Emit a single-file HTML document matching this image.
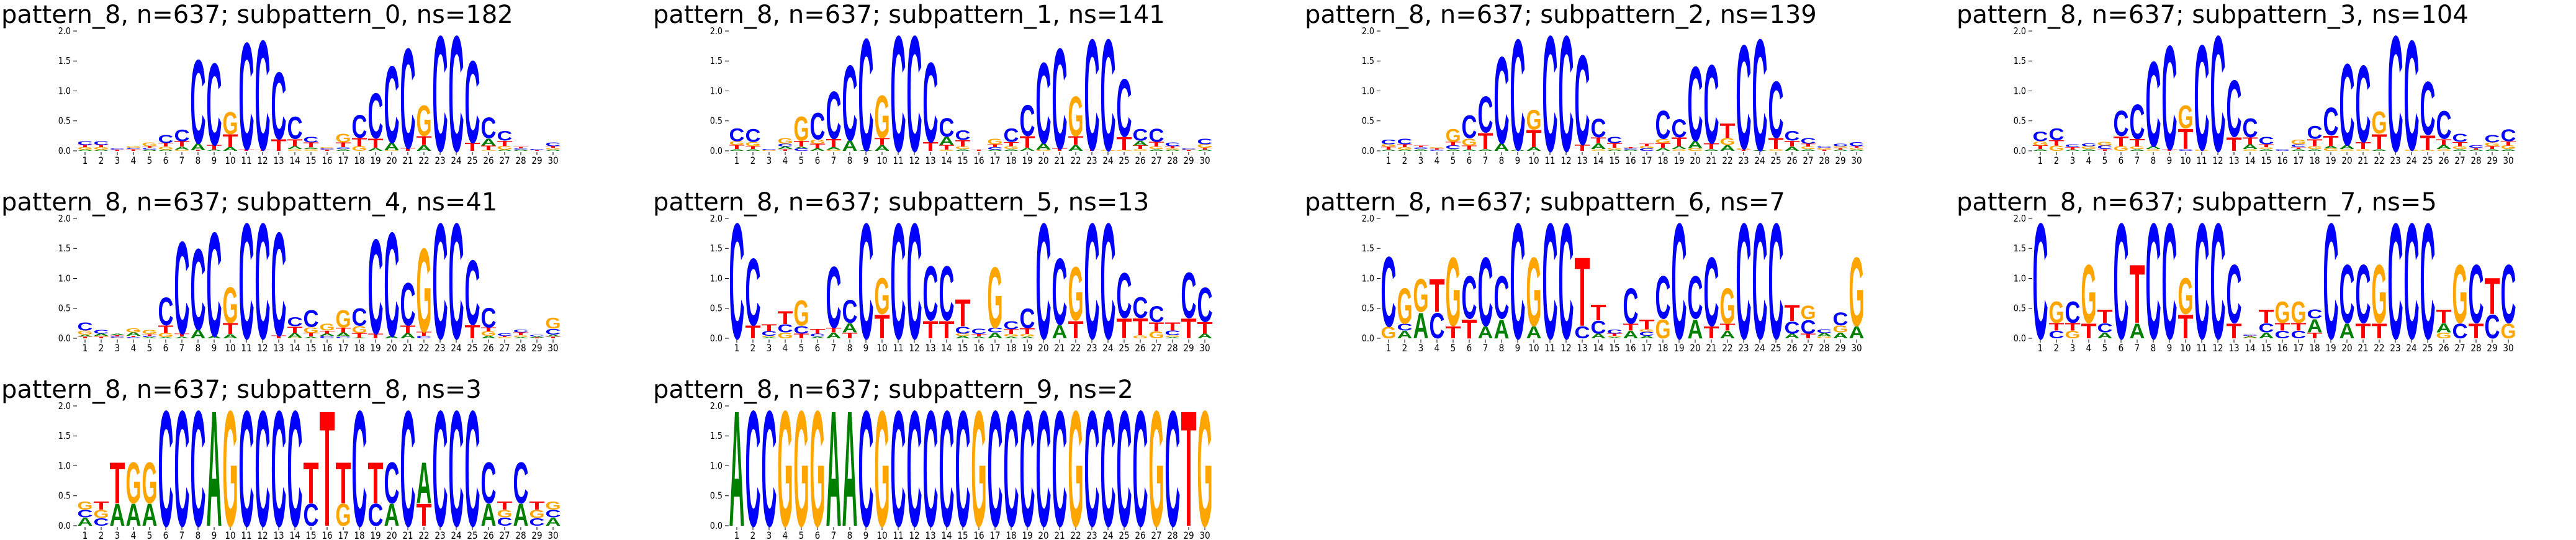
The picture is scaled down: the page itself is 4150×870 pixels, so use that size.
<!DOCTYPE html>
<html><head><meta charset="utf-8"><style>
html,body{margin:0;padding:0;background:#fff;}
svg{display:block;}
</style></head><body>
<svg id="chart" width="4150" height="870" viewBox="0 0 4150 870" xmlns="http://www.w3.org/2000/svg"></svg>
<script>
const titles = [
 "pattern_8, n=637; subpattern_0, ns=182","pattern_8, n=637; subpattern_1, ns=141",
 "pattern_8, n=637; subpattern_2, ns=139","pattern_8, n=637; subpattern_3, ns=104",
 "pattern_8, n=637; subpattern_4, ns=41","pattern_8, n=637; subpattern_5, ns=13",
 "pattern_8, n=637; subpattern_6, ns=7","pattern_8, n=637; subpattern_7, ns=5",
 "pattern_8, n=637; subpattern_8, ns=3","pattern_8, n=637; subpattern_9, ns=2"];
const yTicks = [0, 0.5, 1.0, 1.5, 2.0];
const yTickLabels = ["0.0","0.5","1.0","1.5","2.0"];
const positions = [1,2,3,4,5,6,7,8,9,10,11,12,13,14,15,16,17,18,19,20,21,22,23,24,25,26,27,28,29,30];
// each position: letters bottom-to-top with height in bits
const sub0 = ["A.02 G.04 T.04 C.06","A.02 G.04 T.04 C.06","T.02 C.02","T.03 C.02 G.03","A.02 C.03 T.03 G.06","A.02 G.05 T.06 C.14","G.02 A.05 T.09 C.2","T.01 A.12 C1.45","A.02 T.08 C1.42","A.06 T.22 G.38","T.03 C1.85","T.02 C1.9","T.2 C1.16","G.03 A.05 T.12 C.38","G.03 A.03 T.08 C.1","T.02 C.02 G.02","A.03 C.03 T.08 G.15","G.08 T.14 C.4","A.05 T.16 C.78","G.01 A.13 C1.33","T.05 C1.73","A.1 T.15 G.53","C2.0","C2.0","T.14 C1.42","G.01 T.08 A.12 C.36","A.02 G.06 T.09 C.17","A.02 C.02 T.03","T.01 C.02","A.02 G.03 T.03 C.06"];
const sub1 = ["A.03 T.07 G.06 C.22","A.03 T.05 G.07 C.22","G.01 C.02","T.03 A.04 C.05 G.1","C.04 A.03 T.1 G.42","A.04 T.08 G.07 C.46","G.02 A.04 T.14 C.82","A.18 C1.3","A.01 C1.94","A.1 T.12 G.74","C2.0","C2.0","T.15 C1.38","G.02 T.08 A.14 C.32","A.03 G.04 T.11 C.17","T.02","A.02 C.04 T.05 G.1","A.03 G.05 T.07 C.24","A.05 T.2 C.54","G.02 A.11 C1.4","T.04 C1.74","A.1 T.15 G.69","T.02 C1.92","G.01 C1.93","G.01 T.23 C1.0","G.03 T.06 A.08 C.2","A.03 G.04 T.08 C.23","A.02 G.02 T.04 C.06","T.01 G.01 C.02","A.02 T.03 G.06 C.1"];
const sub2 = ["A.02 T.05 G.04 C.08","A.02 G.04 T.05 C.1","A.03 C.03 T.03","C.02 T.02 G.02","A.03 C.06 T.06 G.22","A.02 T.07 G.12 C.4","A.03 T.28 C.63","A.13 C1.5","A.02 C1.92","A.06 T.3 G.34","C2.0","C2.0","T.11 C1.55","G.03 A.1 T.1 C.32","A.02 G.03 T.08 C.11","A.02 C.02 T.02","C.04 G.04 T.04","A.05 T.08 G.07 C.49","G.03 A.05 T.15 C.31","G.04 A.13 C1.29","A.03 T.1 C1.36","A.1 G.12 T.25","T.02 G.02 C1.8","A.01 C1.93","G.03 T.19 C.98","A.07 T.1 C.17","A.03 G.04 T.05 C.1","T.02 G.03 C.03","A.02 T.03 G.03 C.04","A.02 G.03 T.03 C.07"];
const sub3 = ["A.03 T.06 G.07 C.17","G.09 T.09 C.2","A.02 T.04 C.05","A.03 G.05 C.05","T.03 C.06 G.06","G.08 T.17 C.44","A.03 G.04 T.13 C.6","G.03 A.05 C1.47","T.03 C1.8","C.03 T.35 G.4","G.02 C1.82","C2.0","T.24 C.98","G.03 A.08 T.12 C.33","A.03 G.03 T.05 C.13","C.03","A.03 T.03 C.05 G.08","A.03 G.05 T.12 C.22","G.04 A.04 T.18 C.48","G.03 A.07 C1.41","G.03 T.12 C1.33","A.03 T.26 G.38","C2.0","G.02 C1.9","G.01 T.26 C.92","G.03 A.07 T.1 C.48","A.03 G.05 T.07 C.14","A.02 T.03 C.04","A.03 T.05 G.06 C.13","A.03 G.06 T.07 C.21"];
const sub4 = ["T.03 A.03 G.07 C.14","T.03 G.01 A.04 C.06","G.01 C.02 T.02 A.03","C.02 T.02 A.06 G.07","A.02 C.02 T.03 G.07","A.02 G.07 T.13 C.48","A.03 T.05 C1.6","A.15 C1.4","A.04 C1.8","A.07 T.19 G.62","C2.0","C2.0","T.05 C1.79","G.01 A.08 T.11 C.16","A.03 T.06 G.1 C.29","C.04 A.04 T.05 G.12","C.03 A.07 T.08 G.3","A.01 T.08 G.12 C.3","T.08 C1.64","A.04 C1.8","A.09 T.13 C.74","C.04 T.07 G1.45","C2.0","C2.0","T.23 C1.12","A.04 G.08 T.06 C.34","G.02 T.02 C.04","A.02 G.03 T.05 C.05","T.01 A.02 C.03","T.03 A.03 C.1 G.19"];
const sub5 = ["C2.0","T.22 C1.16","A.02 G.02 C.08 T.12","G.1 C.14 T.22","T.08 C.13 G.44","A.03 C.05 T.08","A.1 T.08 C1.06","T.1 A.16 C.4","C2.0","T.41 G.63","C2.0","C2.0","T.3 C.94","T.3 C.94","A.04 G.04 C.12 T.47","A.03 T.04 C.09","A.1 C.08 G1.05","A.03 G.04 T.08 C.14","A.03 G.04 T.1 C.34","C2.0","A.23 C1.15","T.3 G.93","C2.0","C2.0","T.34 C.78","G.05 T.29 C.36","G.12 T.15 C.28","A.02 G.03 C.08 T.14","T.34 C.79","A.08 T.2 C.59"];
const sub6 = ["G.2 C1.21","A.13 C.12 G.61","A.44 G.57","C.44 T.57","T.21 G1.19","T.33 C.74","A.21 C1.19","A.33 C.74","C2.0","A.21 G1.19","C2.0","C2.0","C.21 T1.19","A.08 C.22 T.27","A.02 G.02 T.04 C.07","A.13 T.12 C.61","A.04 C.07 G.04 T.17","G.33 C.74","C2.0","A.33 C.74","T.21 C1.19","A.13 T.12 G.61","C2.0","C2.0","C2.0","A.08 C.21 T.28","T.08 C.24 G.24","G.03 A.06 C.06","A.1 G.12 C.22","A.21 G1.19"];
const sub7 = ["C2.0","C.13 T.13 G.37","G.13 T.13 C.37","T.26 G1.01","A.1 C.16 T.23","C2.0","A.26 T1.01","C2.0","C2.0","T.41 G.63","C2.0","C2.0","T.26 C1.01","G.01 A.02 T.01 C.02","A.1 C.16 T.23","C.13 T.13 G.37","C.13 T.13 G.37","T.1 A.23 C.16","C2.0","A.26 C1.01","T.26 C1.01","T.26 G1.01","C2.0","C2.0","C2.0","G.1 A.16 T.23","C.26 G1.01","T.26 C1.01","C.41 T.63","G.26 C1.01"];
const sub8 = ["A.14 C.13 G.14","C.13 G.14 T.14","A.38 T.71","A.38 G.71","A.38 G.71","C2.0","C2.0","C2.0","A2.0","G2.0","C2.0","C2.0","C2.0","C2.0","C.38 T.71","T2.0","G.38 T.71","C2.0","C.38 T.71","A.38 C.71","C2.0","T.38 A.71","C2.0","C2.0","C2.0","A.38 C.71","C.14 G.13 T.14","A.38 C.71","C.13 G.14 T.14","A.14 C.13 G.14"];
const sub9 = ["A2.0","C2.0","C2.0","G2.0","G2.0","G2.0","A2.0","A2.0","C2.0","G2.0","C2.0","C2.0","C2.0","C2.0","C2.0","G2.0","C2.0","C2.0","C2.0","C2.0","C2.0","G2.0","C2.0","C2.0","C2.0","C2.0","G2.0","C2.0","T2.0","G2.0"];
const panels = [sub0,sub1,sub2,sub3,sub4,sub5,sub6,sub7,sub8,sub9];

const NS = "http://www.w3.org/2000/svg";
const svg = document.getElementById("chart");
const colors = {A:"#008000",C:"#0000ff",G:"#ffa500",T:"#ff0000"};
const COLW = 1050, ROWH = 302, X0 = 137, STEP = 26, LW = 25, ZERO = 243, BIT = 96.5;
const TF = "DejaVu Sans, Liberation Sans, sans-serif";
function el(tag, attrs, parent){const e=document.createElementNS(NS,tag);for(const k in attrs)e.setAttribute(k,attrs[k]);(parent||svg).appendChild(e);return e;}
function xPos(px,i){return px+X0+STEP*(i-1);}
function yPos(py,v){return py+ZERO-v*BIT;}

panels.forEach((stacks,p)=>{
  const c=p%4, r=Math.floor(p/4), px=c*COLW, py=r*ROWH;
  const g=el("g",{});
  
  
  const t=el("text",{x:px+2,y:py+37,"font-family":TF,"font-size":40,fill:"#000"},g);
  
  
  t.textContent=titles[p];
  yTicks.forEach((v,k)=>{
    const y=yPos(py,v);
    const tk=el("line",{x1:px+118,x2:px+124,y1:y,y2:y,stroke:"#000","stroke-width":1},g);
    
    
    const lb=el("text",{x:px+114,y:y+5,"text-anchor":"end","font-family":TF,"font-size":15,fill:"#000",transform:`translate(${px+114},0) scale(0.85,1) translate(${-(px+114)},0)`},g);
    
    
    lb.textContent=yTickLabels[k];
  });
  positions.forEach((pos,i)=>{
    const cx=xPos(px,pos);
    const tk=el("line",{x1:cx,x2:cx,y1:py+ZERO+2,y2:py+ZERO+7,stroke:"#000","stroke-width":1},g);
    
    
    const lb=el("text",{x:cx,y:py+ZERO+21,"text-anchor":"middle","font-family":TF,"font-size":16,fill:"#000",transform:`translate(${cx},0) scale(0.85,1) translate(${-cx},0)`},g);
    
    
    lb.textContent=String(pos);
    let acc=0;
    stacks[i].split(" ").forEach(tok=>{
      const L=tok[0], h=parseFloat(tok.slice(1));
      if(!(h>0)) return;
      const yb=yPos(py,acc), ht=h*BIT;
      acc+=h;
      const s=el("text",{x:0,y:0,"font-family":"Liberation Sans, sans-serif","font-weight":"bold","font-size":100,fill:colors[L],textLength:LW,lengthAdjust:"spacingAndGlyphs",transform:`translate(${cx-LW/2},${yb}) scale(1,${ht/72.5})`},g);
      
      
      s.textContent=L;
    });
  });
});
</script>
</body></html>
